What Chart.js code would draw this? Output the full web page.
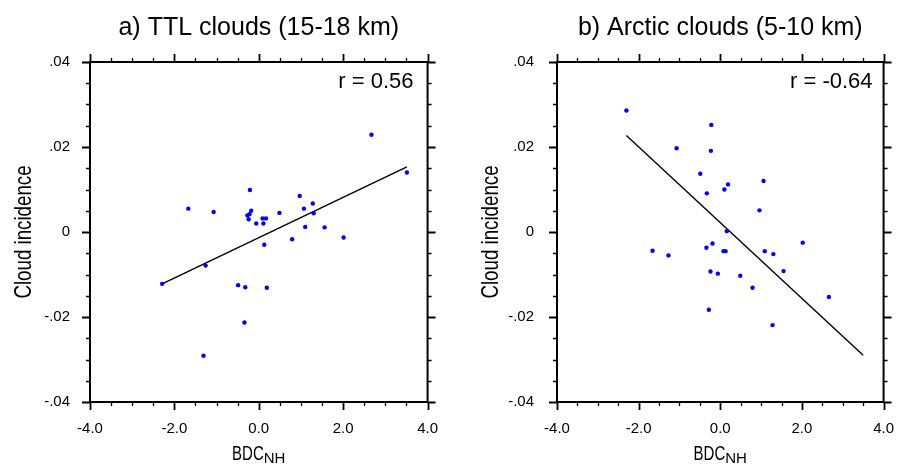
<!DOCTYPE html>
<html>
<head>
<meta charset="utf-8">
<script src="https://cdn.jsdelivr.net/npm/chart.js@4/dist/chart.umd.min.js"></script>
<style>
  html, body { margin: 0; padding: 0; background: #fff; }
  #wrap { position: relative; width: 912px; height: 464px; }
  canvas { position: absolute; top: 0; }
</style>
</head>
<body>
<div id="wrap">
  <canvas id="panelA" width="456" height="464" style="left:0"></canvas>
  <canvas id="panelB" width="456" height="464" style="left:456px"></canvas>
</div>
<script>
// valores
var ttlX = [2.67, 3.51, -0.21, 0.97, -1.67, -1.07, -0.18, -0.27, -0.22, -0.24, -0.06, 0.09, 0.17, 0.11, 0.49,
            1.07, 1.28, 1.30, 1.10, 1.56, 0.79, 2.01, 0.13, -1.26, -2.29, -0.49, -0.32, 0.19, -0.34, -1.31];
var ttlY = [0.0229, 0.0140, 0.0099, 0.0085, 0.0055, 0.0047, 0.0050, 0.0039, 0.0042, 0.0030, 0.0020, 0.0032, 0.0032, 0.0020, 0.0045,
            0.0055, 0.0067, 0.0044, 0.0012, 0.0011, -0.0017, -0.0013, -0.0030, -0.0079, -0.0122, -0.0125, -0.0130, -0.0131, -0.0213, -0.0291];
var ttlFitX = [-2.29, 3.51];
var ttlFitY = [-0.0122, 0.0153];

var arcX = [-2.30, -0.22, -1.07, -0.23, -0.49, 0.19, 0.10, -0.33, 1.06, 0.96, 0.16, -0.19, -0.34, -1.66,
            -1.27, 0.08, 0.13, 1.09, 1.30, 2.02, -0.24, -0.06, 0.49, 1.55, 0.79, 2.66, -0.28, 1.28];
var arcY = [0.0286, 0.0252, 0.0197, 0.0191, 0.0137, 0.0112, 0.0100, 0.0091, 0.0120, 0.0051, 0.0002, -0.0027, -0.0037, -0.0044,
            -0.0055, -0.0045, -0.0045, -0.0045, -0.0052, -0.0025, -0.0093, -0.0098, -0.0103, -0.0092, -0.0131, -0.0153, -0.0183, -0.0219];
var arcFitX = [-2.30, 3.50];
var arcFitY = [0.0227, -0.0290];

// ejes
var xTicks = [-4, -2, 0, 2, 4];
var xMinor = [-3.5, -3, -2.5, -1.5, -1, -0.5, 0.5, 1, 1.5, 2.5, 3, 3.5];
var yTicks = [-0.04, -0.02, 0, 0.02, 0.04];
var yTickLabels = ['-.04', '-.02', '0', '.02', '.04'];
var yMinor = [-0.035, -0.03, -0.025, -0.015, -0.01, -0.005, 0.005, 0.01, 0.015, 0.025, 0.03, 0.035];

var FONT = "'Liberation Sans', Arial, Helvetica, sans-serif";

function toPoints(xs, ys) {
    var pts = [];
    for (var i = 0; i < xs.length; i++) {
        pts.push({ x: xs[i], y: ys[i] });
    }
    return pts;
}

// marco, marcas de los ejes y textos extra
var marcoPlugin = {
    id: 'marco',
    afterDraw: function (chart, args, opts) {
        var ctx = chart.ctx;
        var a = chart.chartArea;
        var sx = chart.scales.x, sy = chart.scales.y;
        ctx.save();
        ctx.strokeStyle = '#000';
        ctx.lineWidth = 1.3;
        ctx.beginPath();
        function marcasX(vals, len) {
            vals.forEach(function (v) {
                var px = Math.round(sx.getPixelForValue(v)) + 0.5;
                ctx.moveTo(px, a.bottom); ctx.lineTo(px, a.bottom + len);
                ctx.moveTo(px, a.top); ctx.lineTo(px, a.top - len);
            });
        }
        function marcasY(vals, len) {
            vals.forEach(function (v) {
                var py = Math.round(sy.getPixelForValue(v)) + 0.5;
                ctx.moveTo(a.left, py); ctx.lineTo(a.left - len, py);
                ctx.moveTo(a.right, py); ctx.lineTo(a.right + len, py);
            });
        }
        marcasX(xMinor, 4);
        marcasY(yMinor, 4);
        ctx.stroke();
        ctx.lineWidth = 1.8;
        ctx.beginPath();
        marcasX(xTicks, 8);
        marcasY(yTicks, 8);
        ctx.stroke();
        ctx.lineWidth = 2;
        ctx.strokeRect(a.left, a.top, a.right - a.left, a.bottom - a.top);

        ctx.fillStyle = '#000';
        // coeficiente r
        ctx.font = '22px ' + FONT;
        ctx.textAlign = 'right';
        ctx.textBaseline = 'alphabetic';
        ctx.fillText(opts.rTexto, a.right - opts.rMargen, a.top + 26);

        // titulo eje y (condensado)
        ctx.save();
        ctx.translate(a.left - 66, (a.top + a.bottom) / 2);
        ctx.rotate(-Math.PI / 2);
        ctx.scale(0.78, 1);
        ctx.font = '24px ' + FONT;
        ctx.textAlign = 'center';
        ctx.textBaseline = 'middle';
        ctx.fillText('Cloud incidence', 0, 0);
        ctx.restore();

        // titulo eje x con subindice
        var cx = (a.left + a.right) / 2;
        ctx.font = '20px ' + FONT;
        var wBDC = ctx.measureText('BDC').width * 0.75;
        ctx.font = '15px ' + FONT;
        var wNH = ctx.measureText('NH').width;
        var x0 = cx - (wBDC + wNH) / 2;
        ctx.textAlign = 'left';
        ctx.save();
        ctx.translate(x0, 460);
        ctx.scale(0.75, 1);
        ctx.font = '20px ' + FONT;
        ctx.fillText('BDC', 0, 0);
        ctx.restore();
        ctx.font = '15px ' + FONT;
        ctx.fillText('NH', x0 + wBDC, 463);
        ctx.restore();
    }
};

function crearPanel(id, titulo, xs, ys, fitX, fitY, rTexto, opciones) {
    var ctx = document.getElementById(id).getContext('2d');
    return new Chart(ctx, {
        type: 'scatter',
        data: {
            datasets: [{
                data: toPoints(xs, ys),
                backgroundColor: '#0000ff',
                borderWidth: 0,
                pointRadius: 2.2,
                order: 1
            }, {
                type: 'line',
                data: toPoints(fitX, fitY),
                borderColor: '#000',
                borderWidth: 1.4,
                pointRadius: 0,
                fill: false,
                order: 2
            }]
        },
        plugins: [marcoPlugin],
        options: {
            responsive: false,
            animation: false,
            layout: { padding: { left: 0, right: opciones.derecha, top: 0, bottom: 0 } },
            plugins: {
                legend: { display: false },
                tooltip: { enabled: false },
                title: {
                    display: true,
                    text: titulo,
                    fullSize: false,
                    color: '#000',
                    font: { family: FONT, size: 25, weight: 'normal' },
                    padding: { top: 13, bottom: 19 }
                },
                marco: { rTexto: rTexto, rMargen: opciones.rMargen }
            },
            scales: {
                x: {
                    type: 'linear',
                    min: -4, max: 4,
                    grid: { display: false, drawTicks: false },
                    border: { display: false },
                    afterBuildTicks: function (scale) {
                        scale.ticks = xTicks.map(function (v) { return { value: v }; });
                    },
                    afterFit: function (scale) { scale.height = 62; },
                    ticks: {
                        color: '#000',
                        font: { family: FONT, size: 15 },
                        padding: 18,
                        maxRotation: 0,
                        callback: function (v) { return v.toFixed(1); }
                    }
                },
                y: {
                    type: 'linear',
                    min: -0.04, max: 0.04,
                    grid: { display: false, drawTicks: false },
                    border: { display: false },
                    afterBuildTicks: function (scale) {
                        scale.ticks = yTicks.map(function (v) { return { value: v }; });
                    },
                    afterFit: function (scale) { scale.width = opciones.izquierda; },
                    ticks: {
                        color: '#000',
                        font: { family: FONT, size: 15 },
                        padding: opciones.pad,
                        callback: function (v, i) { return yTickLabels[i]; }
                    }
                }
            }
        }
    });
}

var panelA = crearPanel('panelA', 'a) TTL clouds (15-18 km)', ttlX, ttlY, ttlFitX, ttlFitY, 'r = 0.56',
    { izquierda: 90, derecha: 25, pad: 20, rMargen: 14 });
var panelB = crearPanel('panelB', 'b) Arctic clouds (5-10 km)', arcX, arcY, arcFitX, arcFitY, 'r = -0.64',
    { izquierda: 101, derecha: 13, pad: 23, rMargen: 11 });
</script>
</body>
</html>
